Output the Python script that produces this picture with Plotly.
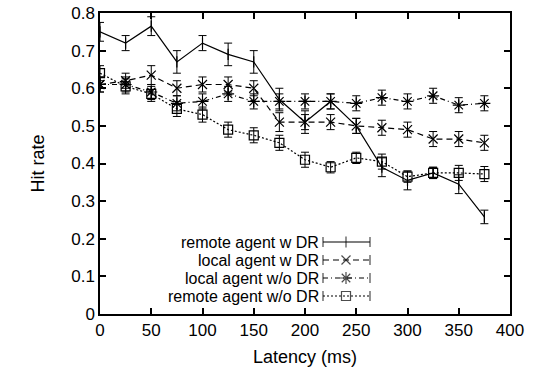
import plotly.graph_objects as go

latency = [0, 25, 50, 75, 100, 125, 150, 175, 200, 225, 250, 275, 300, 325, 350, 375]

remote_dr = [0.750, 0.720, 0.765, 0.670, 0.720, 0.690, 0.670, 0.570, 0.510, 0.565, 0.500, 0.390, 0.355, 0.375, 0.345, 0.258]
remote_dr_err = [0.025, 0.020, 0.025, 0.030, 0.020, 0.030, 0.030, 0.030, 0.030, 0.020, 0.020, 0.025, 0.025, 0.015, 0.025, 0.018]

local_dr = [0.610, 0.620, 0.635, 0.600, 0.610, 0.610, 0.600, 0.510, 0.510, 0.510, 0.500, 0.495, 0.490, 0.465, 0.465, 0.455]
local_dr_err = [0.020, 0.020, 0.025, 0.020, 0.020, 0.020, 0.020, 0.025, 0.020, 0.020, 0.020, 0.020, 0.020, 0.020, 0.020, 0.020]

local_nodr = [0.610, 0.610, 0.590, 0.560, 0.565, 0.585, 0.565, 0.565, 0.565, 0.565, 0.560, 0.575, 0.565, 0.580, 0.555, 0.560]
local_nodr_err = [0.020, 0.020, 0.020, 0.020, 0.020, 0.020, 0.020, 0.020, 0.020, 0.020, 0.020, 0.020, 0.020, 0.020, 0.020, 0.020]

remote_nodr = [0.640, 0.605, 0.585, 0.545, 0.530, 0.490, 0.475, 0.455, 0.410, 0.390, 0.415, 0.405, 0.365, 0.375, 0.375, 0.372]
remote_nodr_err = [0.020, 0.020, 0.020, 0.020, 0.020, 0.020, 0.020, 0.020, 0.020, 0.015, 0.015, 0.020, 0.015, 0.015, 0.020, 0.020]

names = ["remote agent w DR", "local agent w DR", "local agent w/o DR", "remote agent w/o DR"]
series = [remote_dr, local_dr, local_nodr, remote_nodr]
errors = [remote_dr_err, local_dr_err, local_nodr_err, remote_nodr_err]
dashes = ["solid", "6px,4px", "5px,3px,1px,3px", "2px,2px"]
symbols = ["line-ns", "x-thin", "asterisk", "square-open"]
msizes = [8, 9, 10, 9]

FONT = "Liberation Sans, Arial, Helvetica, sans-serif"
FS_TICK = 17
FS_TITLE = 18
FS_LEG = 16

PL, PR, PT, PB = 100, 510, 13, 314  # plot area in screen pixels
W, H = 540, 383


def px_to_y(p):
    return (PB - p) / (PB - PT) * 0.8


def px_to_xp(p):
    return (p - PL) / (PR - PL)


fig = go.Figure()
for name, ys, err, dash, sym, ms in zip(names, series, errors, dashes, symbols, msizes):
    fig.add_trace(go.Scatter(
        x=latency, y=ys, name=name, mode="lines+markers",
        line=dict(color="black", width=1.2, dash=dash),
        marker=dict(symbol=sym, size=ms, color="black", line=dict(color="black", width=1.2)),
        error_y=dict(type="data", array=err, visible=True, color="black", thickness=1, width=4),
        showlegend=False,
    ))

# manual gnuplot-style legend (text right, sample on the right)
leg_y = [px_to_y(p) for p in [242, 260, 278, 296]]
for name, yv, dash, sym, ms in zip(names, leg_y, dashes, symbols, msizes):
    fig.add_annotation(x=px_to_xp(320), y=yv, xref="paper", yref="y", text=name, showarrow=False,
                       xanchor="right", yanchor="middle", borderpad=0,
                       font=dict(family=FONT, size=FS_LEG, color="black"))
    fig.add_trace(go.Scatter(
        x=[px_to_xp(323), px_to_xp(346), px_to_xp(370)], y=[yv, yv, yv], xaxis="x2", yaxis="y",
        mode="lines+markers", line=dict(color="black", width=1.2, dash=dash),
        marker=dict(symbol=["line-ns", sym, "line-ns"], size=[7, ms, 7], color="black",
                    line=dict(color="black", width=1.2)),
        showlegend=False, hoverinfo="skip",
    ))

axis_common = dict(
    showline=True, linecolor="black", linewidth=1.5, mirror="ticks",
    ticks="inside", ticklen=6, tickwidth=1.5, tickcolor="black",
    showgrid=False, zeroline=False, automargin=False,
    tickfont=dict(family=FONT, size=FS_TICK, color="black"),
)

fig.update_layout(
    width=W, height=H,
    margin=dict(l=PL, r=W - PR, t=PT, b=H - PB),
    paper_bgcolor="white", plot_bgcolor="white",
    xaxis=dict(range=[0, 400], tickvals=[0, 50, 100, 150, 200, 250, 300, 350, 400],
               title=dict(text="Latency (ms)", font=dict(family=FONT, size=FS_TITLE, color="black"), standoff=11),
               **axis_common),
    yaxis=dict(range=[0, 0.8], tickvals=[0, 0.1, 0.2, 0.3, 0.4, 0.5, 0.6, 0.7, 0.8],
               ticktext=["0", "0.1", "0.2", "0.3", "0.4", "0.5", "0.6", "0.7", "0.8"],
               title=dict(text="Hit rate", font=dict(family=FONT, size=FS_TITLE, color="black"), standoff=22),
               **axis_common),
    xaxis2=dict(range=[0, 1], overlaying="x", visible=False),
    showlegend=False,
)

fig.write_html(
    "out.html",
    config={"displayModeBar": False},
    post_script="document.body.style.margin='0';document.body.style.overflow='hidden';",
)
